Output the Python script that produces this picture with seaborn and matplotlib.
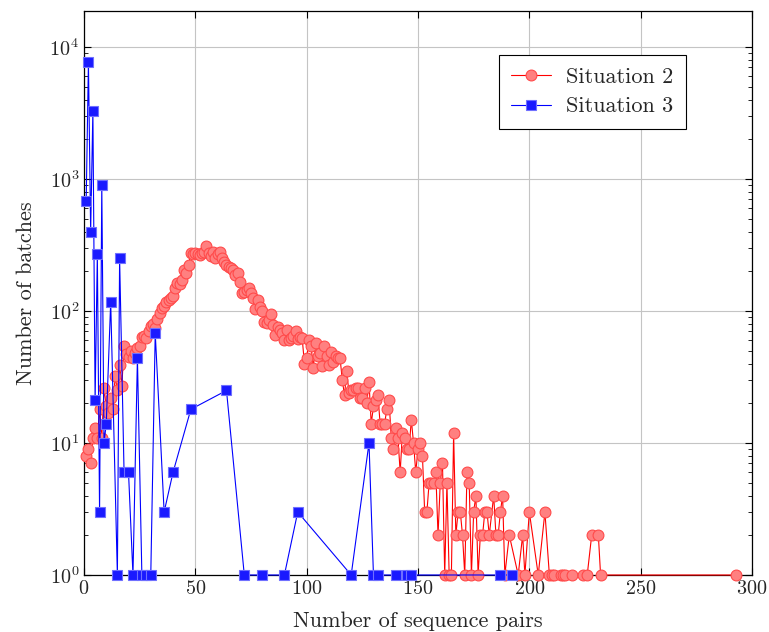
import numpy as np
import pandas as pd
import matplotlib
matplotlib.use('Agg')
import matplotlib.pyplot as plt
import seaborn as sns

# Situation 2 (red circles)
s2_x = [1, 2, 3, 4, 5, 6, 7, 8, 9, 10, 11, 12, 13, 14, 15, 16, 17, 18, 19, 20,
        21, 22, 23, 24, 25, 26, 27, 28, 29, 30, 31, 32, 33, 34, 35, 36, 37, 38, 39, 40,
        41, 42, 43, 44, 45, 46, 47, 48, 49, 50, 51, 52, 53, 54, 55, 56, 57, 58, 59, 60,
        61, 62, 63, 64, 65, 66, 67, 68, 69, 70, 71, 72, 73, 74, 75, 76, 77, 78, 79, 80,
        81, 82, 83, 84, 85, 86, 87, 88, 89, 90, 91, 92, 93, 94, 95, 96, 97, 98, 99, 100,
        101, 102, 103, 104, 105, 106, 107, 108, 109, 110, 111, 112, 113, 114, 115, 116, 117, 118, 119, 120,
        121, 122, 123, 124, 125, 126, 127, 128, 129, 130, 131, 132, 133, 134, 135, 136, 137, 138, 139, 140,
        141, 142, 143, 144, 145, 146, 147, 148, 149, 150, 151, 152, 153, 154, 155, 156, 157, 158, 159, 160,
        161, 162, 163, 164, 165, 166, 167, 168, 169, 170, 171, 172, 173, 174, 175, 176, 177, 178, 179, 180,
        181, 182, 184, 185, 186, 187, 188, 189, 191, 195, 197, 198, 200, 204, 207, 209, 210, 211, 214, 215,
        216, 219, 224, 226, 228, 231, 232, 293]
s2_y = [8, 9, 7, 11, 13, 11, 18, 11, 26, 19, 17, 22, 18, 32, 25, 39, 27, 54, 47, 45,
        50, 44, 48, 52, 54, 63, 65, 62, 70, 77, 80, 75, 87, 97, 105, 110, 117, 121, 125, 130,
        150, 163, 160, 171, 204, 194, 224, 275, 270, 275, 270, 268, 275, 280, 310, 275, 260, 280, 250, 270,
        280, 250, 235, 225, 215, 210, 205, 187, 193, 166, 136, 140, 144, 150, 136, 125, 103, 121, 108, 100,
        83, 81, 86, 95, 78, 66, 76, 72, 68, 60, 72, 60, 62, 65, 70, 61, 64, 62, 40, 44,
        60, 54, 37, 57, 46, 48, 38, 54, 46, 39, 49, 41, 46, 44, 44, 30, 23, 35, 24, 25,
        25, 26, 26, 22, 22, 26, 20, 29, 14, 19, 21, 23, 14, 14, 14, 18, 21, 11, 9, 13,
        11, 6, 12, 11, 9, 9, 15, 10, 6, 9, 10, 8, 3, 3, 5, 5, 5, 6, 2, 5,
        7, 1, 5, 1, 1, 12, 2, 3, 3, 2, 1, 6, 5, 1, 3, 4, 1, 2, 2, 3,
        3, 2, 4, 2, 2, 3, 4, 1, 2, 1, 2, 1, 3, 1, 3, 1, 1, 1, 1, 1,
        1, 1, 1, 1, 2, 2, 1, 1]

# Situation 3 (blue squares)
s3_x = [1, 2, 3, 4, 5, 6, 7, 8, 9, 10, 12, 15, 16, 18, 20, 22, 24, 26, 28, 30,
        32, 36, 40, 48, 64, 72, 80, 90, 96, 120, 128, 130, 132, 140, 145, 147, 187, 192]
s3_y = [680, 7700, 400, 3300, 21, 270, 3, 900, 10, 14, 117, 1, 250, 6, 6, 1, 44, 1, 1, 1,
        68, 3, 6, 18, 25, 1, 1, 1, 3, 1, 10, 1, 1, 1, 1, 1, 1, 1]

df2 = pd.DataFrame({'pairs': s2_x, 'batches': s2_y})
df3 = pd.DataFrame({'pairs': s3_x, 'batches': s3_y})

sns.set_style('ticks')
plt.rcParams['font.family'] = ['cmr10', 'DejaVu Serif']
plt.rcParams['mathtext.fontset'] = 'cm'
plt.rcParams['axes.formatter.use_mathtext'] = True

fig = plt.figure(figsize=(7.69, 6.32), dpi=100)
ax = fig.add_axes([0.1092, 0.0902, 0.8687, 0.8924])

sns.lineplot(x='pairs', y='batches', data=df2, ax=ax, color='red', lw=0.8,
             marker='o', markersize=7.8, markerfacecolor='#ff8080',
             markeredgecolor='#ff4a4a', markeredgewidth=0.8,
             label='Situation 2', estimator=None, clip_on=False, zorder=3)
sns.lineplot(x='pairs', y='batches', data=df3, ax=ax, color='blue', lw=0.8,
             marker='s', markersize=6.5, markerfacecolor='#1a1aff',
             markeredgecolor='#7070ff', markeredgewidth=0.8,
             label='Situation 3', estimator=None, clip_on=False, zorder=4)

ax.set_yscale('log')
ax.set_xlim(0, 300)
ax.set_ylim(1, 10 ** 4.273)
ax.set_xticks([0, 50, 100, 150, 200, 250, 300])
ax.grid(True, which='major', color='#c4c4c4', lw=0.8)
ax.set_axisbelow(True)

ax.tick_params(which='both', direction='in', top=True, right=True, labelsize=14.5,
               color='black')
ax.tick_params(which='major', length=5, width=0.8)
ax.tick_params(which='minor', length=3, width=0.6)
for sp in ax.spines.values():
    sp.set_color('black')
    sp.set_linewidth(0.9)

ax.set_xlabel('Number of sequence pairs', fontsize=16, labelpad=10)
ax.set_ylabel('Number of batches', fontsize=16, labelpad=10)

leg = ax.legend(loc='upper right', bbox_to_anchor=(0.901, 0.922), fontsize=16,
                frameon=True, fancybox=False, edgecolor='black', framealpha=1,
                handlelength=1.8, handletextpad=0.7, borderpad=0.55,
                labelspacing=0.45, borderaxespad=0)
leg.get_frame().set_linewidth(0.8)

fig.savefig('out.png', dpi=100)
